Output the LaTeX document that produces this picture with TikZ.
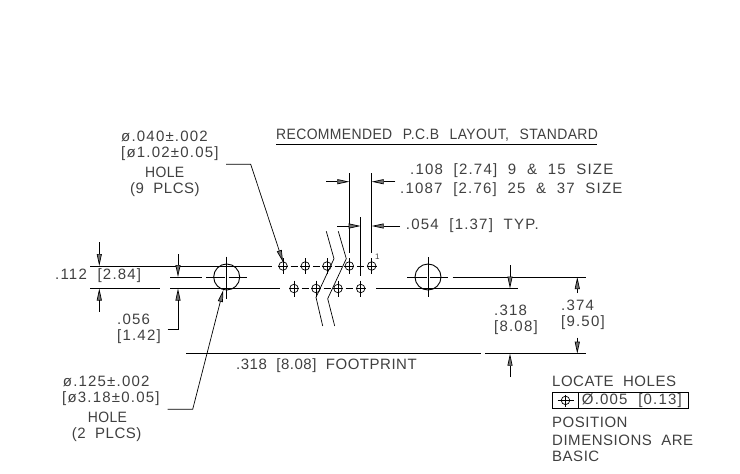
\documentclass[tikz,border=0pt]{standalone}
\usepackage{fontspec}
\setmainfont{Liberation Sans}
\newfontfamily\capfont[FakeStretch=.93,LetterSpace=2.5,WordSpace=2.5]{Liberation Sans}
\newfontfamily\midfont[LetterSpace=3.5,WordSpace=2]{Liberation Sans}
\newfontfamily\numfont[LetterSpace=8,WordSpace=2]{Liberation Sans}
\usetikzlibrary{arrows.meta}
\tikzset{
    captext/.style={font=\capfont\fontsize{15}{15}\selectfont,text=black!75,inner sep=0pt,anchor=west},
    midtext/.style={captext,font=\midfont\fontsize{15}{15}\selectfont},
    numtext/.style={captext,font=\numfont\fontsize{15}{15}\selectfont},
    dimtip/.style={-{Triangle[length=12pt,width=5pt,fill=black!55]}},
    thinline/.style={line width=.7pt},
    axisline/.style={line width=.8pt},
    hole/.style={circle,draw,line width=.7pt,inner sep=0pt,minimum size=8.5pt},
    bighole/.style={circle,draw,line width=.9pt,inner sep=0pt,minimum size=26pt},
}
\newcommand{\holemark}[2]{
    \node [hole] (h#1) at (#2) {};
    \draw [thinline] ([yshift=8pt]h#1.center) -- ([yshift=-8pt]h#1.center);
    \draw [thinline] ([xshift=-5pt]h#1.center) -- ([xshift=5pt]h#1.center);
}
\begin{document}
\begin{tikzpicture}[x=1pt,y=-1pt]
    \useasboundingbox (0,0) rectangle (740,474);
    \fill [white] (0,0) rectangle (740,474);

    % title
    \node [captext] (title) at (276,135.5) {RECOMMENDED P.C.B LAYOUT, STANDARD};
    \draw [thinline] (276,144) -- (597,144);

    % rows of holes
    \draw [axisline] (90,266) -- (272,266);
    \draw [axisline] (90,288.5) -- (160,288.5);
    \draw [axisline] (170,288.5) -- (280,288.5);
    \draw [axisline] (376,288.5) -- (518,288.5);
    \draw [thinline] (290.5,266) -- (297.5,266) (312.8,266) -- (319.8,266) (334.5,266) -- (341.5,266) (356.8,266) -- (363.8,266);
    \draw [thinline] (301.5,288.5) -- (308.5,288.5) (323.5,288.5) -- (330.5,288.5) (345.5,288.5) -- (352.5,288.5);
    \holemark{a}{283,266}
    \holemark{b}{305.3,266}
    \holemark{c}{327,266}
    \holemark{d}{349.3,266}
    \holemark{e}{371.7,266}
    \holemark{f}{294,288.5}
    \holemark{g}{316,288.5}
    \holemark{i}{338,288.5}
    \holemark{j}{360.7,288.5}

    % big holes
    \node [bighole] (lefthole) at (226.7,277) {};
    \node [bighole] (righthole) at (428,277) {};
    \draw [thinline] (226.7,256.5) -- (226.7,299);
    \draw [thinline] (206,277) -- (225,277) (228.5,277) -- (247,277);
    \draw [thinline] (428,257) -- (428,297);
    \draw [thinline] (407,277) -- (426.5,277) (429.5,277) -- (448,277);

    % break lines
    \draw [thinline] (326.3,231.3) -- (334,258.7) -- (316,297.3) -- (322.7,326);
    \draw [thinline] (338.3,231.3) -- (346.3,258.7) -- (327.7,298.7) -- (334.7,326);

    % extension lines
    \draw [thinline] (349.3,173.3) -- (349.3,253);
    \draw [thinline] (371.7,173.3) -- (371.7,253);
    \draw [thinline] (360.7,217.3) -- (360.7,276);
    \draw [thinline] (170,277) -- (202,277);
    \draw [axisline] (452.7,277) -- (586,277);
    \draw [axisline] (186,353.7) -- (481,353.7);
    \draw [axisline] (485,353.7) -- (586,353.7);

    % dimension arrows
    \draw [thinline,dimtip] (326,181.7) -- (349.3,181.7);
    \draw [thinline,dimtip] (395.3,181.7) -- (371.7,181.7);
    \draw [thinline,dimtip] (337.3,226) -- (360.7,226);
    \draw [thinline,dimtip] (400,226) -- (371.7,226);
    \draw [thinline,dimtip] (99.3,242) -- (99.3,266);
    \draw [thinline,dimtip] (99.3,311.7) -- (99.3,288.5);
    \draw [thinline,dimtip] (178,254) -- (178,277);
    \draw [thinline,dimtip] (167.7,329) -- (178,329) -- (178,288.5);
    \draw [thinline,dimtip] (510,265) -- (510,288.5);
    \draw [thinline,dimtip] (510,377) -- (510,353.7);
    \draw [thinline,dimtip] (577.3,293) -- (577.3,277);
    \draw [thinline,dimtip] (577.3,337.7) -- (577.3,353.7);

    % leaders
    \draw [thinline,dimtip] (226,164.3) -- (250.7,164.3) -- (283,262);
    \draw [thinline,dimtip] (167.7,409.3) -- (192.7,409.3) -- (223.3,290);

    % labels
    \node [numtext] (smallnote) at (121,136) {ø.040±.002};
    \node [numtext] (smallsize) at (121,154) {[ø1.02±0.05]};
    \node [captext] (smallhole) at (145,172) {HOLE};
    \node [midtext] (smallplcs) at (130,190) {(9 PLCS)};
    \node [numtext] (rowgap) at (55,276) {.112 [2.84]};
    \node [numtext] (halfa) at (117,319) {.056};
    \node [numtext] (halfb) at (117,337) {[1.42]};
    \node [numtext] (bignote) at (62.7,381) {ø.125±.002};
    \node [numtext] (bigsize) at (62,399) {[ø3.18±0.05]};
    \node [captext] (bighole) at (87.7,417) {HOLE};
    \node [midtext] (bigplcs) at (71.7,435) {(2 PLCS)};
    \node [midtext] (foot) at (236,366) {.318 [8.08] FOOTPRINT};
    \node [numtext] (rowa) at (494,310) {.318};
    \node [numtext] (rowb) at (494,328) {[8.08]};
    \node [numtext] (flangea) at (561,305) {.374};
    \node [numtext] (flangeb) at (561,323) {[9.50]};
    \node [numtext] (pitcha) at (410,171) {.108 [2.74] 9 \& 15 SIZE};
    \node [numtext] (pitchb) at (400,190) {.1087 [2.76] 25 \& 37 SIZE};
    \node [numtext] (halfpitch) at (405.7,226) {.054 [1.37] TYP.};
    \node [captext,font=\fontsize{8}{8}\selectfont] (pinone) at (375,257) {1};

    % tolerance block
    \node [midtext] (locate) at (552,381) {LOCATE HOLES};
    \draw [thinline] (552.7,392.7) rectangle (688,408);
    \draw [thinline] (578.3,392.7) -- (578.3,408);
    \node [hole] (symbol) at (565.5,400.4) {};
    \draw [thinline] (565.5,394.5) -- (565.5,406.5);
    \draw [thinline] (557.5,400.4) -- (573.5,400.4);
    \node [numtext] (tol) at (581.7,400.4) {Ø.005 [0.13]};
    \node [midtext] (pos) at (552,422) {POSITION};
    \node [midtext] (dims) at (552,440) {DIMENSIONS ARE};
    \node [midtext] (basic) at (552,456) {BASIC};
\end{tikzpicture}
\end{document}
